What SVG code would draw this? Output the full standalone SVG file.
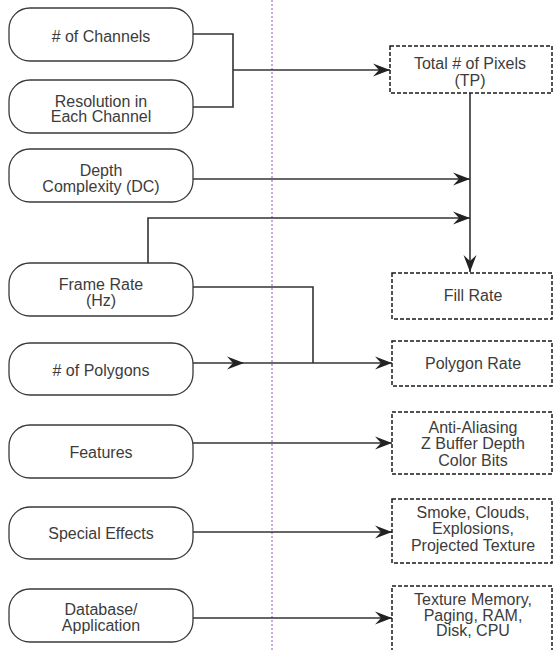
<svg xmlns="http://www.w3.org/2000/svg" width="553" height="650" viewBox="0 0 553 650">
<defs>
<style>
.node rect{fill:#fff;stroke:#3a3a3a;stroke-width:1.3}
.box rect{fill:#fff;stroke:#1a1a1a;stroke-width:1.5;stroke-dasharray:4 2}
text{font-family:"Liberation Sans",Arial,sans-serif;font-size:16px;fill:#3c3c3c;text-anchor:middle}
.conn path{fill:none;stroke:#333;stroke-width:1.6}
.guide{stroke:#9055c8;stroke-width:1;stroke-dasharray:2 2;fill:none}
</style>
<marker id="arr" viewBox="-17 -7 18 14" refX="0" refY="0" markerWidth="18" markerHeight="14" orient="auto" markerUnits="userSpaceOnUse">
<path d="M0,0 L-17,-6.5 L-11,0 L-17,6.5 Z" fill="#222"/>
</marker>
</defs>
<rect width="553" height="650" fill="#fff"/>
<line class="guide" x1="272" y1="0" x2="272" y2="650"/>

<g class="conn">
<path d="M193,34 H233 V107 H193"/>
<path d="M233,70 H390" marker-end="url(#arr)"/>
<path d="M470,93 V272" marker-end="url(#arr)"/>
<path d="M193,179 H470" marker-end="url(#arr)"/>
<path d="M148,263 V218 H470" marker-end="url(#arr)"/>
<path d="M193,287 H313 V363"/>
<path d="M193,363 H244" marker-end="url(#arr)"/>
<path d="M244,363 H392" marker-end="url(#arr)"/>
<path d="M193,443 H392" marker-end="url(#arr)"/>
<path d="M193,532 H392" marker-end="url(#arr)"/>
<path d="M193,618 H392" marker-end="url(#arr)"/>
</g>

<g id="n-channels" class="node"><rect x="9" y="8" width="184" height="53" rx="21"/><text x="101" y="41.5"># of Channels</text></g>
<g id="n-resolution" class="node"><rect x="9" y="80" width="184" height="53" rx="21"/><text x="101" y="106.5">Resolution in</text><text x="101" y="122">Each Channel</text></g>
<g id="n-depth" class="node"><rect x="9" y="149" width="184" height="53" rx="21"/><text x="101" y="175.5">Depth</text><text x="101" y="191.5">Complexity (DC)</text></g>
<g id="n-frame" class="node"><rect x="9" y="263" width="184" height="53" rx="21"/><text x="101" y="290">Frame Rate</text><text x="101" y="305.5">(Hz)</text></g>
<g id="n-polygons" class="node"><rect x="9" y="343" width="184" height="52" rx="21"/><text x="101" y="376"># of Polygons</text></g>
<g id="n-features" class="node"><rect x="9" y="425" width="184" height="53" rx="21"/><text x="101" y="458">Features</text></g>
<g id="n-effects" class="node"><rect x="9" y="507" width="184" height="52" rx="21"/><text x="101" y="539">Special Effects</text></g>
<g id="n-database" class="node"><rect x="9" y="589" width="184" height="53" rx="21"/><text x="101" y="615">Database/</text><text x="101" y="631">Application</text></g>

<g id="b-total" class="box"><rect x="390" y="46" width="162" height="47"/><text x="470" y="69">Total # of Pixels</text><text x="470" y="85.5">(TP)</text></g>
<g id="b-fill" class="box"><rect x="392" y="273" width="160" height="46"/><text x="473" y="301">Fill Rate</text></g>
<g id="b-polygon" class="box"><rect x="392" y="341" width="160" height="45"/><text x="473" y="368.5">Polygon Rate</text></g>
<g id="b-aa" class="box"><rect x="392" y="412" width="160" height="62"/><text x="473" y="432.5">Anti-Aliasing</text><text x="473" y="449">Z Buffer Depth</text><text x="473" y="465.5">Color Bits</text></g>
<g id="b-smoke" class="box"><rect x="392" y="499" width="160" height="64"/><text x="473" y="518">Smoke, Clouds,</text><text x="473" y="534">Explosions,</text><text x="473" y="550.5">Projected Texture</text></g>
<g id="b-texture" class="box"><rect x="392" y="586" width="160" height="68"/><text x="473" y="605">Texture Memory,</text><text x="473" y="620.5">Paging, RAM,</text><text x="473" y="636">Disk, CPU</text></g>
</svg>
